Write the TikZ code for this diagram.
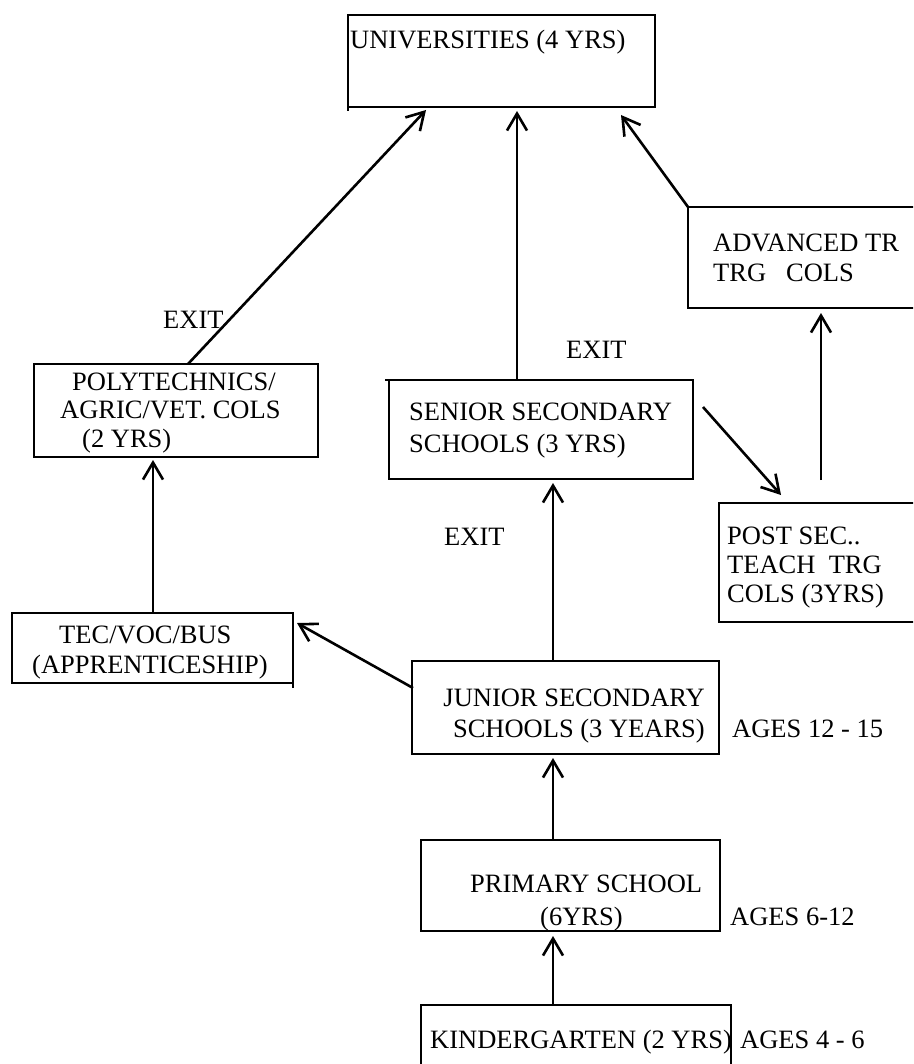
\documentclass[tikz,border=0pt]{standalone}
\usepackage{fontspec}
\setmainfont{Liberation Serif}
\usetikzlibrary{arrows.meta}
\begin{document}
\begin{tikzpicture}[x=1pt,y=-1pt,
  box/.style={draw, line width=2.4pt, inner sep=0pt, outer sep=0pt, rectangle},
  tick/.style={line width=2.4pt},
  lbl/.style={anchor=base west, inner sep=0pt, font=\fontsize{26.5pt}{29pt}\selectfont},
  lble/.style={anchor=base east, inner sep=0pt, font=\fontsize{26.5pt}{29pt}\selectfont},
  conn/.style={line width=2.6pt, -{Straight Barb[length=17pt,width=20pt,line width=2.6pt]}}]
\useasboundingbox (0,0) rectangle (913,1064);
\clip (0,0) rectangle (913,1064);
% boxes
\node[box, minimum width=307pt, minimum height=92pt]  (univ)    at (501.5,61)    {};
\node[box, minimum width=272pt, minimum height=101pt] (adv)     at (824,257.5)   {};
\node[box, minimum width=284pt, minimum height=93pt]  (poly)    at (176,410.5)   {};
\node[box, minimum width=304pt, minimum height=99pt]  (senior)  at (541,429.5)   {};
\node[box, minimum width=241pt, minimum height=119pt] (post)    at (839.5,562.5) {};
\node[box, minimum width=281pt, minimum height=70pt]  (tec)     at (152.5,648)   {};
\node[box, minimum width=307pt, minimum height=93pt]  (junior)  at (565.5,707.5) {};
\node[box, minimum width=299pt, minimum height=91pt]  (primary) at (570.5,885.5) {};
\node[box, minimum width=310pt, minimum height=85pt]  (kinder)  at (576,1047.5)  {};
% small overhangs of box borders
\draw[tick] (univ.south west) -- ++(0,4);
\draw[tick] (tec.south east) -- ++(0,5);
\draw[tick] (senior.north west) -- ++(-4,0);
% texts
\node[lbl] (t1) at (350,49) {UNIVERSITIES (4 YRS)};
\node[lbl] (t2) at (713,252) {ADVANCED TR};
\node[lbl] (t3) at (713,281) {TRG~~~COLS};
\node[lbl] (t4) at (72,390) {POLYTECHNICS/};
\node[lbl] (t5) at (60,418) {AGRIC/VET. COLS};
\node[lbl] (t6) at (82,447) {(2 YRS)};
\node[lbl] (e1) at (163,328) {EXIT};
\node[lbl] (e2) at (566,358) {EXIT};
\node[lbl] (e3) at (444,545) {EXIT};
\node[lbl] (t7) at (409,420) {SENIOR SECONDARY};
\node[lbl] (t8) at (409,452) {SCHOOLS (3 YRS)};
\node[lbl] (t9) at (727,544) {POST SEC..};
\node[lbl] (t10) at (727,573) {TEACH~~TRG};
\node[lbl] (t11) at (727,602) {COLS (3YRS)};
\node[lbl] (t12) at (59,643) {TEC/VOC/BUS};
\node[lbl] (t13) at (32,673) {(APPRENTICESHIP)};
\node[lble] (t14) at (705,706) {JUNIOR SECONDARY};
\node[lble] (t15) at (705,737) {SCHOOLS (3 YEARS)};
\node[lbl] (a1) at (732,737) {AGES 12 - 15};
\node[lbl] (t16) at (470,892) {PRIMARY SCHOOL};
\node[lbl] (t17) at (540,925) {(6YRS)};
\node[lbl] (a2) at (730,925) {AGES 6-12};
\node[lbl] (t18) at (430,1048) {KINDERGARTEN (2 YRS)};
\node[lbl] (a3) at (740,1048) {AGES 4 - 6};
% connectors
\draw[conn] ([xshift=154pt]poly.north west) -- ([xshift=78pt,yshift=-3pt]univ.south west);
\draw[conn] ([xshift=128pt]senior.north west) -- ([xshift=169pt,yshift=-4pt]univ.south west);
\draw[conn] (adv.north west) -- ([xshift=273pt,yshift=-8pt]univ.south west);
\draw[conn] ([xshift=102pt,yshift=23pt]post.north west) -- ([xshift=133pt,yshift=-5pt]adv.south west);
\draw[conn] ([xshift=10pt,yshift=-27pt]senior.north east) -- ([xshift=62pt,yshift=8pt]post.north west);
\draw[conn] ([xshift=141pt]junior.north west) -- ([xshift=164pt,yshift=-4pt]senior.south west);
\draw[conn] ([xshift=1pt,yshift=-27pt]junior.north west) -- ([xshift=4pt,yshift=-10pt]tec.north east);
\draw[conn] ([xshift=141pt]tec.north west) -- ([xshift=119pt,yshift=-3pt]poly.south west);
\draw[conn] ([xshift=132pt]primary.north west) -- ([xshift=141pt,yshift=-4pt]junior.south west);
\draw[conn] ([xshift=132pt]kinder.north west) -- ([xshift=132pt,yshift=-5pt]primary.south west);
\end{tikzpicture}
\end{document}
